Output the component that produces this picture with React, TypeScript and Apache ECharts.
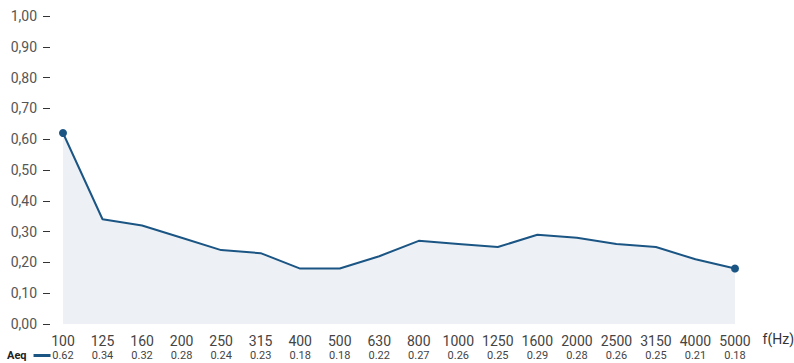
import React, { useEffect, useRef } from "react";
import * as echarts from "echarts";

const frequencies = ["100", "125", "160", "200", "250", "315", "400", "500", "630", "800", "1000", "1250", "1600", "2000", "2500", "3150", "4000", "5000"];
const aeqValues = [0.62, 0.34, 0.32, 0.28, 0.24, 0.23, 0.18, 0.18, 0.22, 0.27, 0.26, 0.25, 0.29, 0.28, 0.26, 0.25, 0.21, 0.18];
const yTicks = [0, 0.1, 0.2, 0.3, 0.4, 0.5, 0.6, 0.7, 0.8, 0.9, 1.0];

const LINE = "#1b5584";

export default function App() {
  const ref = useRef<HTMLDivElement>(null);
  useEffect(() => {
    if (!ref.current) return;
    const chart = echarts.init(ref.current, null, { renderer: "svg" });
    const last = aeqValues.length - 1;
    chart.setOption({
      animation: false,
      textStyle: { fontFamily: "Roboto" },
      grid: { left: 63, right: 59, top: 16, bottom: 39, containLabel: false },
      legend: {
        left: 7,
        bottom: 2,
        align: "right",
        icon: "rect",
        itemWidth: 17,
        itemHeight: 3,
        itemGap: 2,
        padding: 0,
        textStyle: { fontWeight: "bold", fontSize: 11, color: "#222", padding: [0, 2, 0, 0] },
        data: ["Aeq"],
      },
      xAxis: {
        type: "category",
        boundaryGap: false,
        data: frequencies,
        axisLine: { show: false },
        axisTick: { show: false },
        axisLabel: {
          interval: 0,
          margin: 9,
          formatter: (v: string, i: number) => `{a|${v}}\n{b|${aeqValues[i].toFixed(2)}}`,
          rich: {
            a: { fontSize: 14, color: "#444", lineHeight: 16, fontFamily: "Roboto" },
            b: { fontSize: 11, color: "#444", lineHeight: 13, fontFamily: "Roboto" },
          },
        },
      },
      yAxis: {
        type: "value",
        min: 0,
        max: 1,
        interval: 0.1,
        offset: 13,
        splitLine: { show: false },
        axisLine: { show: false },
        axisTick: { show: true, length: 7, lineStyle: { color: "#333", width: 1 } },
        axisLabel: {
          margin: 13,
          fontSize: 14,
          color: "#555",
          formatter: (v: number) => {
            const t = yTicks.find((x) => Math.abs(x - v) < 1e-6);
            return (t !== undefined ? t : v).toFixed(2).replace(".", ",");
          },
        },
      },
      graphic: [
        {
          type: "text",
          right: 0,
          top: 332,
          style: { text: "f(Hz)", fontSize: 14, fill: "#333", fontFamily: "Roboto" },
        },
      ],
      series: [
        {
          name: "Aeq",
          type: "line",
          data: aeqValues.map((v, i) => ({
            value: v,
            symbol: i === 0 || i === last ? "circle" : "none",
            symbolSize: 8,
          })),
          showSymbol: true,
          lineStyle: { color: LINE, width: 2 },
          itemStyle: { color: LINE },
          areaStyle: { color: "#edf1f6", opacity: 1 },
        },
      ],
    });
    return () => chart.dispose();
  }, []);
  return (
    <div
      ref={ref}
      style={{ position: "fixed", left: 0, top: 0, width: 794, height: 363, background: "#fff" }}
    />
  );
}
